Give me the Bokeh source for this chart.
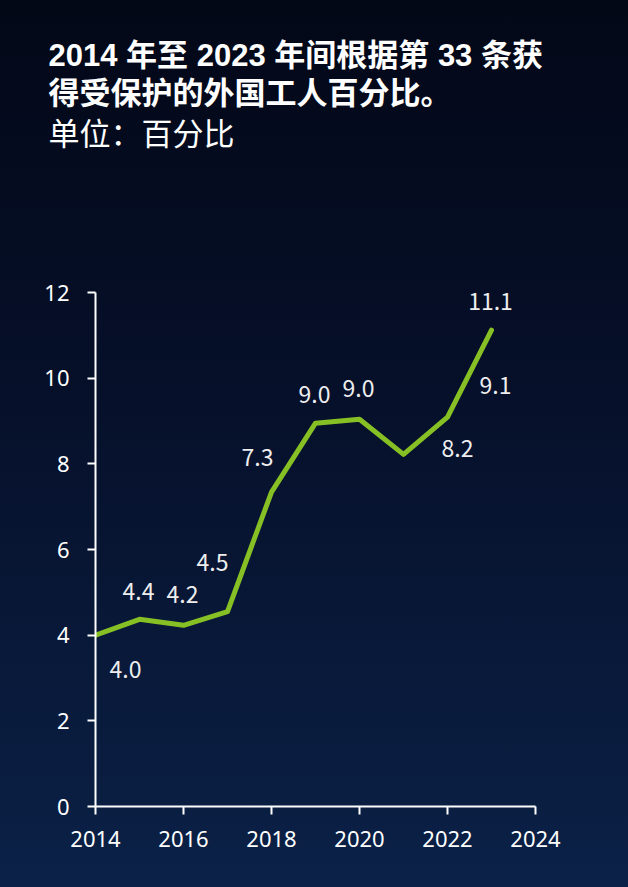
from bokeh.plotting import figure
from bokeh.models import Title, Range1d, ColumnDataSource, FixedTicker
from bokeh.embed import file_html
from bokeh.resources import INLINE
from bokeh.core.properties import value

years = [2014, 2015, 2016, 2017, 2018, 2019, 2020, 2021, 2022, 2023]
percent = [4.0, 4.37, 4.23, 4.55, 7.34, 8.95, 9.04, 8.22, 9.09, 11.12]
labels = ["4.0", "4.4", "4.2", "4.5", "7.3", "9.0", "9.0", "8.2", "9.1", "11.1"]
x_ticks = [2014, 2016, 2018, 2020, 2022, 2024]
y_ticks = [0, 2, 4, 6, 8, 10, 12]

title1 = "2014 年至 2023 年间根据第 33 条获"
title2 = "得受保护的外国工人百分比。"
subtitle = "单位：百分比"

# label offsets in screen pixels (style)
lbl_dx = [30, -1, -1, -15, -14, -1, -1, 54, 48, -1]
lbl_dy = [34, -28, -31, -49, -35, -29, -31, -6, -32, -29]

src = ColumnDataSource(dict(x=years, y=percent, t=labels, dx=lbl_dx, dy=lbl_dy))

p = figure(width=628, height=887, output_backend="svg", toolbar_location=None,
           x_range=Range1d(2014, 2024), y_range=Range1d(0, 12),
           min_border_left=95, min_border_right=93, min_border_bottom=81,
           min_border_top=0)
p.background_fill_color = None
p.border_fill_color = None
p.outline_line_color = None
p.styles = {"background": "linear-gradient(180deg, #030817 0%, #06102a 45%, #0b2147 100%)"}
p.grid.visible = False

FONT_T = "'Liberation Sans', 'Noto Sans CJK SC', sans-serif"

def spacer(s):
    return Title(text=" ", text_font_size="10px", standoff=s, text_color="#ffffff")

# added nearest-to-plot first
p.add_layout(spacer(125), "above")
p.add_layout(Title(text=subtitle, text_font_size="31px", text_font=FONT_T,
                   text_font_style="normal", text_color="#ffffff", align="left",
                   offset=-47, standoff=6), "above")
p.add_layout(Title(text=title2, text_font_size="31px", text_font=FONT_T,
                   text_font_style="bold", text_color="#ffffff", align="left",
                   offset=-47, standoff=2), "above")
p.add_layout(Title(text=title1, text_font_size="31px", text_font=FONT_T,
                   text_font_style="bold", text_color="#ffffff", align="left",
                   offset=-47, standoff=0), "above")
p.add_layout(spacer(22), "above")

for ax in (p.xaxis, p.yaxis):
    ax.axis_line_color = "#ffffff"
    ax.axis_line_width = 2
    ax.major_tick_line_color = "#ffffff"
    ax.major_tick_line_width = 2
    ax.major_tick_in = 0
    ax.major_tick_out = 8
    ax.minor_tick_line_color = None
    ax.major_label_text_color = "#ffffff"
    ax.major_label_text_font = "Noto Sans"
    ax.major_label_text_font_size = "22px"
p.xaxis.ticker = FixedTicker(ticks=x_ticks)
p.yaxis.ticker = FixedTicker(ticks=y_ticks)
p.xaxis.major_label_standoff = 16
p.yaxis.major_label_standoff = 18

p.line("x", "y", source=src, line_color="#86c025", line_width=5,
       line_cap="round", line_join="round")
p.text("x", "y", text="t", source=src, x_offset="dx", y_offset="dy",
       text_align="center", text_baseline="middle", text_color="#eeeeee",
       text_font=value("Noto Sans CJK SC"), text_font_size="23px")

html = file_html(p, INLINE)
html = html.replace("<body>", '<body style="background-color:#050b1f;">', 1)
open("out.html", "w").write(html)
